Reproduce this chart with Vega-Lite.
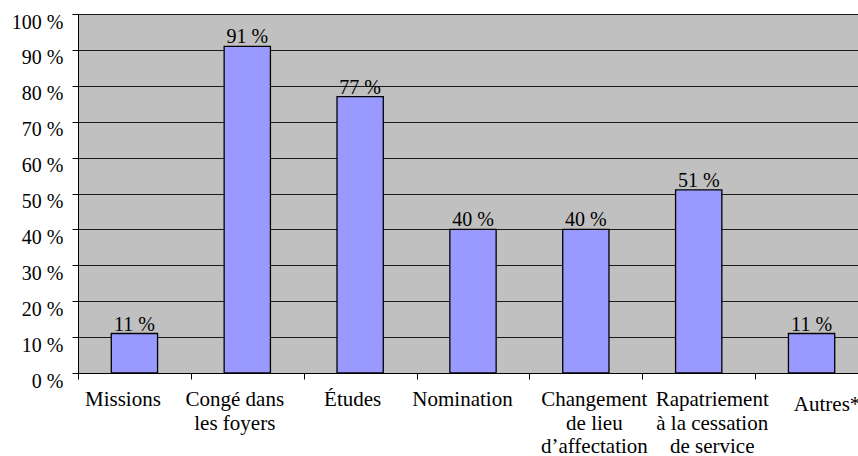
{
  "$schema": "https://vega.github.io/schema/vega-lite/v6.json",
  "autosize": {"type": "none"},
  "padding": {"left": 78, "top": 14, "right": 0, "bottom": 83},
  "width": 780,
  "height": 359,
  "background": "white",
  "config": {
    "font": "Liberation Serif, serif",
    "view": {"fill": "#C0C0C0", "stroke": null},
    "axis": {"labelFont": "Liberation Serif, serif", "labelFontSize": 20, "labelColor": "black"},
    "text": {"font": "Liberation Serif, serif"}
  },
  "data": {
    "values": [
      {"motif": "Missions", "pct": 11},
      {"motif": "Congé dans|les foyers", "pct": 91},
      {"motif": "Études", "pct": 77},
      {"motif": "Nomination", "pct": 40},
      {"motif": "Changement|de lieu|d’affectation", "pct": 40},
      {"motif": "Rapatriement|à la cessation|de service", "pct": 51},
      {"motif": "Autres*", "pct": 11}
    ]
  },
  "encoding": {
    "x": {
      "field": "motif",
      "type": "nominal",
      "sort": null,
      "scale": {"range": [0, 790], "paddingInner": 0, "paddingOuter": 0},
      "axis": {
        "title": null,
        "labelAngle": 0,
        "labelExpr": "split(datum.label, '|')",
        "labelFontSize": 21,
        "labelLineHeight": 23.5,
        "labelPadding": {"condition": {"test": "datum.value === 'Autres*'", "value": 14}, "value": 9.5},
        "labelOffset": {
          "condition": [
            {"test": "datum.index === 0", "value": -12},
            {"test": "datum.value === 'Congé dans|les foyers'", "value": -13},
            {"test": "datum.value === 'Études'", "value": -8},
            {"test": "datum.value === 'Nomination'", "value": -11},
            {"test": "datum.value === 'Changement|de lieu|d’affectation'", "value": 8},
            {"test": "datum.value === 'Rapatriement|à la cessation|de service'", "value": 13},
            {"test": "datum.value === 'Autres*'", "value": 15}
          ],
          "value": 0
        },
        "labelBaseline": "top",
        "labelAlign": "center",
        "labelOverlap": false,
        "labelLimit": 0,
        "tickBand": "extent",
        "tickColor": "black",
        "tickSize": 6,
        "domainColor": "black",
        "grid": false
      }
    },
    "y": {
      "field": "pct",
      "type": "quantitative",
      "scale": {"domain": [0, 100], "nice": false, "zero": true},
      "axis": {
        "title": null,
        "values": [0, 10, 20, 30, 40, 50, 60, 70, 80, 90, 100],
        "labelExpr": "datum.value + ' %'",
        "labelPadding": 9,
        "labelOffset": 8,
        "tickColor": "black",
        "tickSize": 6,
        "domainColor": "black",
        "grid": true,
        "gridColor": "#1a1a1a",
        "gridWidth": 1,
        "gridOpacity": 1
      }
    }
  },
  "layer": [
    {
      "mark": {
        "type": "bar",
        "width": {"band": 0.41},
        "color": "#9999FF",
        "stroke": "black",
        "strokeWidth": 1.3
      }
    },
    {
      "transform": [{"calculate": "datum.pct + ' %'", "as": "etiquette"}],
      "mark": {
        "type": "text",
        "baseline": "alphabetic",
        "dy": -3,
        "fontSize": 20,
        "color": "black"
      },
      "encoding": {
        "text": {"field": "etiquette", "type": "nominal"}
      }
    }
  ]
}
